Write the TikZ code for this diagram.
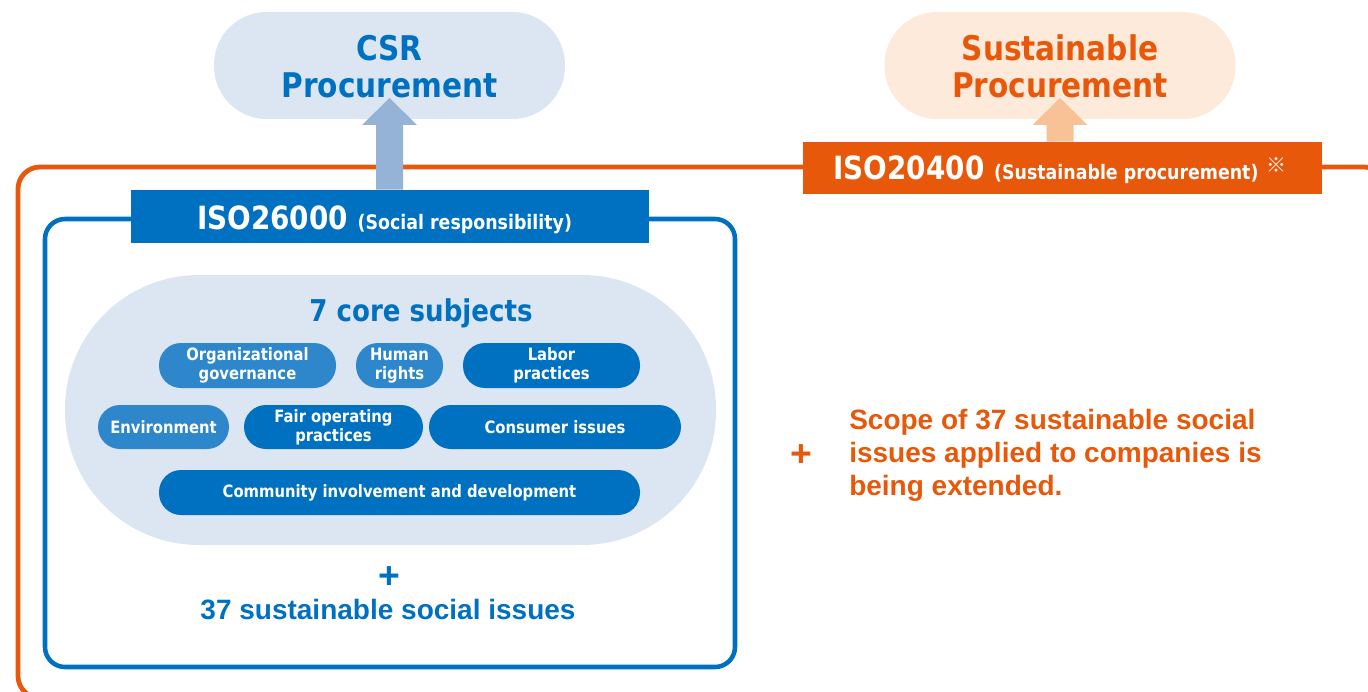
\documentclass[tikz,border=0pt]{standalone}
\usepackage{fontspec}
\setmainfont{Liberation Sans}
\newfontfamily\tah[FakeStretch=0.87]{DejaVu Sans}
\newfontfamily\refmark{Noto Sans CJK JP}
\usetikzlibrary{calc}
\definecolor{cblue}{HTML}{0070C0}
\definecolor{clight}{HTML}{2E86CB}
\definecolor{cpale}{HTML}{DCE6F2}
\definecolor{carrowb}{HTML}{95B3D7}
\definecolor{corange}{HTML}{E8580A}
\definecolor{cpaleo}{HTML}{FDEADA}
\definecolor{carrowo}{HTML}{F9C196}
\tikzset{
  pill/.style={rounded corners=16.5pt, inner sep=0pt, text=white, align=center,
    font=\tah\bfseries\fontsize{12.75pt}{14.25pt}\selectfont},
  bigpill/.style={rounded corners=39.5pt, inner sep=0pt, minimum width=0.75pt*351, minimum height=0.75pt*107},
  bigtitle/.style={inner sep=0pt, align=center, font=\tah\bfseries\fontsize{25.5pt}{27.75pt}\selectfont},
  isobox/.style={inner sep=0pt, minimum height=0.75pt*53},
  isotext/.style={inner sep=0pt, anchor=base, text=white, font=\tah\bfseries\fontsize{24pt}{24pt}\selectfont},
  arial/.style={inner sep=0pt, font=\bfseries\fontsize{21pt}{24.75pt}\selectfont},
  plussign/.style={inner sep=0pt, font=\bfseries\fontsize{28pt}{28pt}\selectfont}
}
\begin{document}
\begin{tikzpicture}[x=0.75pt,y=-0.75pt]
\useasboundingbox (0,0) rectangle (1368,692);
% frames
\draw[corange, line width=3.6pt, rounded corners=16.5pt] (18,167) rectangle (1386,698);
\draw[cblue, line width=3.4pt, rounded corners=15pt] (45,219) rectangle (735,667);
% core subjects area
\node[fill=cpale, rounded corners=100.5pt, inner sep=0pt, minimum width=0.75pt*651, minimum height=0.75pt*270] (core) at (390.5,410) {};
\node[inner sep=0pt, anchor=base, text=cblue, font=\tah\bfseries\fontsize{22.5pt}{24pt}\selectfont] (coretitle) at (421,321) {7 core subjects};
\node[pill, fill=clight, minimum width=0.75pt*177, minimum height=0.75pt*45] (org) at (247.5,365.5) {Organizational\\governance};
\node[pill, fill=clight, minimum width=0.75pt*87, minimum height=0.75pt*45] (hum) at (399.5,365.5) {Human\\rights};
\node[pill, fill=cblue, minimum width=0.75pt*177, minimum height=0.75pt*45] (lab) at (551.5,365.5) {Labor\\practices};
\node[pill, fill=clight, minimum width=0.75pt*131, minimum height=0.75pt*44] (env) at (163.5,427) {Environment};
\node[pill, fill=cblue, minimum width=0.75pt*179, minimum height=0.75pt*44] (fair) at (333.5,427) {Fair operating\\practices};
\node[pill, fill=cblue, minimum width=0.75pt*252, minimum height=0.75pt*44] (con) at (555,427) {Consumer issues};
\node[pill, fill=cblue, minimum width=0.75pt*481, minimum height=0.75pt*45] (com) at (399.5,492.5) {Community involvement and development};
% plus 37 issues
\node[plussign, text=cblue] (plusb) at (389,578) {+};
\node[arial, text=cblue, anchor=base] (issues) at (388,619) {37 sustainable social issues};
% right text
\node[plussign, text=corange] (pluso) at (801,456) {+};
\node[arial, text=corange, anchor=west, align=left] (scope) at (849,455) {Scope of 37 sustainable social\\issues applied to companies is\\being extended.};
% ISO boxes
\node[isobox, fill=cblue, minimum width=0.75pt*518] (iso26) at (390,216.5) {};
\node[isotext] (iso26t) at (384.5,229) {ISO26000 {\fontsize{15pt}{15pt}\selectfont(Social responsibility)}};
\node[isobox, fill=corange, minimum width=0.75pt*519, minimum height=0.75pt*52] (iso20) at (1062.5,168) {};
\node[isotext] (iso20t) at (1060,180) {ISO20400 {\fontsize{15pt}{15pt}\selectfont(Sustainable procurement)\hspace{6pt}\raisebox{5.5pt}{\refmark\fontsize{15pt}{15pt}\selectfont ※}}};
% CSR procurement
\node[bigpill, fill=cpale] (csr) at (389.5,65.5) {};
\coordinate (ab) at (csr.center |- iso26.north);
\fill[carrowb] ($(ab)+(-13.5,0)$) -- ($(csr.center)+(-13.5,59.5)$) -- ($(csr.center)+(-27.5,59.5)$) -- ($(csr.center)+(0,32.5)$) -- ($(csr.center)+(27.5,59.5)$) -- ($(csr.center)+(13.5,59.5)$) -- ($(ab)+(13.5,0)$) -- cycle;
\node[bigtitle, text=cblue] (csrt) at (389.5,67) {CSR\\Procurement};
% Sustainable procurement
\node[bigpill, fill=cpaleo] (sus) at (1060,65.5) {};
\coordinate (ao) at (sus.center |- iso20.north);
\fill[carrowo] ($(ao)+(-13.5,0)$) -- ($(sus.center)+(-13.5,59.5)$) -- ($(sus.center)+(-27.5,59.5)$) -- ($(sus.center)+(0,32.5)$) -- ($(sus.center)+(27.5,59.5)$) -- ($(sus.center)+(13.5,59.5)$) -- ($(ao)+(13.5,0)$) -- cycle;
\node[bigtitle, text=corange] (sust) at (1060,66) {Sustainable\\Procurement};
\end{tikzpicture}
\end{document}
